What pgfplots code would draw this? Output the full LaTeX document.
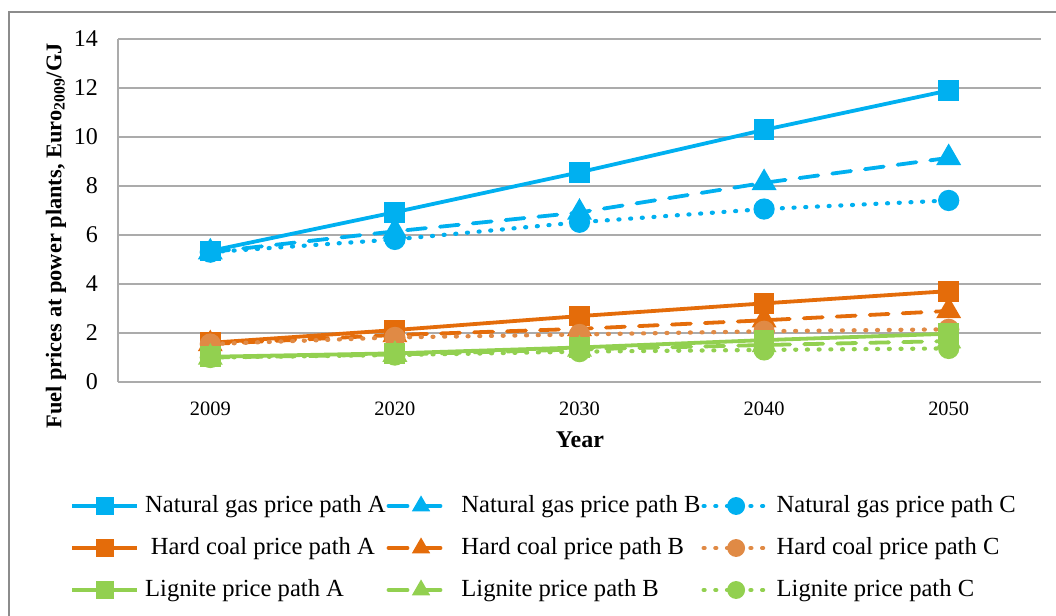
\documentclass[border=0pt]{standalone}
\usepackage{fontspec}
\setmainfont{Liberation Serif}
\usepackage{pgfplots}
\pgfplotsset{compat=1.18}
\definecolor{ng}{HTML}{00B0F0}
\definecolor{hc}{HTML}{E46C0A}
\definecolor{hcc}{HTML}{E08A45}
\definecolor{lg}{HTML}{92D050}
\definecolor{gridc}{HTML}{ABABAB}
\definecolor{framec}{HTML}{8C8C8C}
\tikzset{
  solidl/.style={line width=1.9pt, solid},
  dashl/.style={line width=1.9pt, line cap=round, dash pattern=on 9.5pt off 7pt},
  dotl/.style={line width=2.1pt, line cap=round, dash pattern=on 0.5pt off 5.35pt},
}
\begin{document}
\begin{tikzpicture}
\useasboundingbox (0,0) rectangle (528pt,308pt);
\draw[framec, line width=1pt] (4.5pt,-2pt) -- (4.5pt,301.8pt) -- (530pt,301.8pt);
\begin{axis}[
  at={(59pt,117pt)}, anchor=south west, scale only axis,
  width=461.5pt, height=171.5pt,
  xmin=-0.5, xmax=4.5, ymin=0, ymax=14,
  xtick={0,1,2,3,4}, xticklabels={2009,2020,2030,2040,2050},
  ytick={0,2,...,14},
  axis x line*=bottom, axis y line*=left,
  axis line style={gridc, line width=0.8pt, -},
  ymajorgrids, grid style={gridc, line width=0.8pt},
  major tick length=0pt,
  /pgf/number format/assume math mode=true,
  xticklabel style={font=\fontsize{10.2}{12}\selectfont, yshift=-6.5pt},
  yticklabel style={font=\fontsize{12}{14}\selectfont, xshift=-6.5pt},
  xlabel={Year},
  xlabel style={font=\fontsize{12}{14}\selectfont\bfseries, at={(axis description cs:0.5005,-0.169)}, anchor=center},
  ylabel={Fuel prices at power plants, Euro\textsubscript{2009}/GJ},
  ylabel style={font=\fontsize{11.2}{13}\selectfont\bfseries, at={(axis description cs:-0.0672,0.4257)}, anchor=center},
  clip=false,
  mark size=4.25pt,
  legend columns=3,
  legend cell align=left,
  legend style={at={(axis description cs:-0.0585,-0.484)}, anchor=west, draw=none, fill=none,
    font=\fontsize{12.3}{14}\selectfont,
    nodes={inner sep=0pt, text height=9pt, text depth=3pt},
    row sep=9pt,
    /tikz/every odd column/.append style={column sep=3pt},
    /tikz/every even column/.append style={column sep=0.5pt}},
  legend image post style={mark size=3.4pt},
  legend image code/.code={\draw[mark repeat=2,mark phase=2] plot coordinates {(0pt,0pt) (16.25pt,0pt) (32.5pt,0pt)};},
]
\addplot[ng, solidl, mark=square*, mark options={solid}] coordinates {(0,5.35) (1,6.93) (2,8.56) (3,10.29) (4,11.9)};
\addlegendentry{Natural gas price path A}
\addplot[ng, dashl, mark=triangle*, mark size=5.3pt, mark options={solid}] coordinates {(0,5.3) (1,6.15) (2,6.92) (3,8.13) (4,9.15)};
\addlegendentry{Natural gas price path B}
\addplot[ng, dotl, mark=*, mark options={solid}] coordinates {(0,5.3) (1,5.82) (2,6.52) (3,7.06) (4,7.41)};
\addlegendentry{Natural gas price path C}
\addplot[hc, solidl, mark=square*, mark options={solid}] coordinates {(0,1.6) (1,2.12) (2,2.69) (3,3.21) (4,3.71)};
\addlegendentry{\hspace{2.8pt}Hard coal price path A}
\addplot[hc, dashl, mark=triangle*, mark size=5.3pt, mark options={solid}] coordinates {(0,1.55) (1,1.92) (2,2.17) (3,2.52) (4,2.9)};
\addlegendentry{Hard coal price path B}
\addplot[hcc, dotl, mark=*, mark options={solid}] coordinates {(0,1.55) (1,1.82) (2,1.94) (3,2.07) (4,2.15)};
\addlegendentry{Hard coal price path C}
\addplot[lg, solidl, mark=square*, mark options={solid}] coordinates {(0,1.03) (1,1.17) (2,1.41) (3,1.71) (4,1.97)};
\addlegendentry{Lignite price path A}
\addplot[lg, dashl, mark=triangle*, mark size=5.3pt, mark options={solid}] coordinates {(0,1.0) (1,1.12) (2,1.33) (3,1.51) (4,1.67)};
\addlegendentry{Lignite price path B}
\addplot[lg, dotl, mark=*, mark options={solid}] coordinates {(0,1.0) (1,1.1) (2,1.24) (3,1.31) (4,1.37)};
\addlegendentry{Lignite price path C}
\end{axis}
\end{tikzpicture}
\end{document}
